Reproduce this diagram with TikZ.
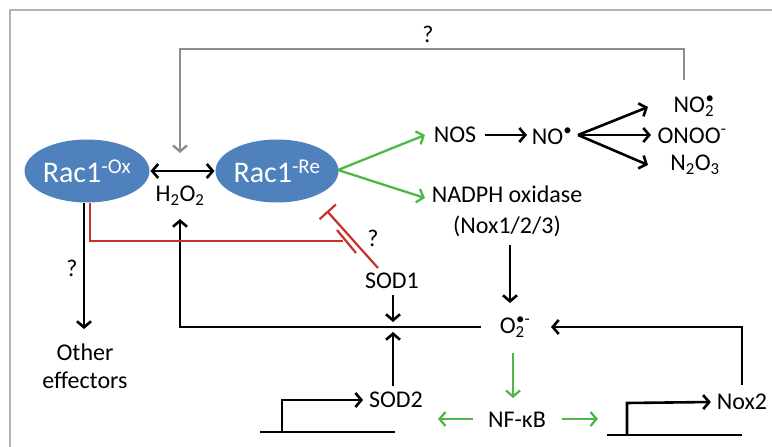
\documentclass[tikz,border=0pt]{standalone}
\usepackage{fontspec}
\setmainfont{Carlito}
\usetikzlibrary{arrows.meta,shapes.geometric}
\definecolor{racblue}{HTML}{4F81BD}
\definecolor{arrgreen}{HTML}{4DB748}
\definecolor{inhred}{HTML}{C8302C}
\definecolor{framegray}{HTML}{B4B4B4}
\definecolor{linkgray}{HTML}{8C8C8C}
\newcommand\mysubsup[2]{\textsubscript{\rlap{#1}}\textsuperscript{#2}}
\begin{document}
\begin{tikzpicture}[x=1pt,y=-1pt,
  font=\fontsize{24}{28}\selectfont,
  line width=2pt,
  >={Straight Barb[length=6pt,width=14pt]},
  rac/.style={ellipse,fill=racblue,text=white,minimum width=121pt,minimum height=63pt,inner sep=0pt,font=\fontsize{30}{32}\selectfont},
  lbl/.style={inner sep=1pt},
  blk/.style={draw=black,line width=2.6pt},
  grn/.style={draw=arrgreen,line width=2.3pt},
  red/.style={draw=inhred,line width=2.2pt},
  gry/.style={draw=linkgray,line width=2.4pt}]
\useasboundingbox (0,0) rectangle (772,447);
\draw[framegray,line width=1.5pt] (10,447) -- (10,10) -- (772,10);

% nodes
\node[rac] (ox) at (87,171) {Rac1\textsuperscript{-Ox}};
\node[rac] (re) at (277,171) {Rac1\textsuperscript{-Re}};
\node[lbl] (h2o2) at (180,196) {H\textsubscript{2}O\textsubscript{2}};
\node[lbl] (nos) at (455,135) {NOS};
\node[lbl] (no) at (552,136) {NO\textsuperscript{•}};
\node[lbl] (no2) at (694,106) {NO\mysubsup{2}{•}};
\node[lbl] (onoo) at (692,136) {ONOO\textsuperscript{-}};
\node[lbl] (n2o3) at (695,165) {N\textsubscript{2}O\textsubscript{3}};
\node[lbl] (nadph) at (507,194) {NADPH oxidase};
\node[lbl] (nox123) at (507,226) {(Nox1/2/3)};
\node[lbl] (sod1) at (392,281) {SOD1};
\node[lbl] (o2) at (515,327) {O\mysubsup{2}{•-}};
\node[lbl] (sod2) at (396,400) {SOD2};
\node[lbl] (nfkb) at (517,420) {NF-κB};
\node[lbl] (nox2) at (742,402) {Nox2};
\node[lbl,align=center] (other) at (85,366) {Other\\effectors};
\node[lbl] (q1) at (428,34) {?};
\node[lbl] (q2) at (72,268) {?};
\node[lbl] (q3) at (373,238) {?};

% coordinates
\coordinate (grayTop) at (684,80);
\coordinate (grayTip) at (180,153);
\coordinate (nosOut) at (485,135);
\coordinate (noIn) at (527,135);
\coordinate (nofork) at (578,135);
\coordinate (noEnd1) at (648,107);
\coordinate (noEnd2) at (651,135);
\coordinate (noEnd3) at (648,165);
\coordinate (reOut) at (338,170);
\coordinate (nosIn) at (425,135);
\coordinate (nadIn) at (425,198);
\coordinate (nadOut) at (510,245);
\coordinate (o2In) at (510,303);
\coordinate (o2W) at (481,327);
\coordinate (o2E) at (551,327);
\coordinate (corner) at (180,327);
\coordinate (h2o2In) at (180,219);
\coordinate (sod1Out) at (393,295);
\coordinate (j1) at (393,322);
\coordinate (sod2Out) at (393,386);
\coordinate (j2) at (393,332);
\coordinate (o2Down) at (513,353);
\coordinate (nfIn) at (513,398);
\coordinate (nfL) at (473,419);
\coordinate (nfLEnd) at (438,419);
\coordinate (nfR) at (562,419);
\coordinate (nfREnd) at (598,419);
\coordinate (nox2Up) at (742,385);
\coordinate (oxDown) at (84,203);
\coordinate (otherIn) at (84,329);
\coordinate (redStart) at (90,203);
\coordinate (redCorner) at (90,241);
\coordinate (redEnd) at (343,241);
\coordinate (sodRed) at (378,268);
\coordinate (sodRedTip) at (327,211);

% gray feedback
\draw[gry,->] (grayTop) -- (684,49) -| (grayTip);

% H2O2 double arrow
\draw[blk,<->] (ox.east) -- (re.west);

% green activation from Rac1-Re
\draw[grn,->] (reOut) -- (nosIn);
\draw[grn,->] (reOut) -- (nadIn);

% NOS -> NO -> products
\draw[blk,->] (nosOut) -- (noIn);
\draw[blk,->] (nofork) -- (noEnd1);
\draw[blk,->] (nofork) -- (noEnd2);
\draw[blk,->] (nofork) -- (noEnd3);

% NADPH oxidase -> O2
\draw[blk,->] (nadOut) -- (o2In);

% O2 -> H2O2
\draw[blk,->] (o2W) -- (corner) -- (h2o2In);

% SOD arrows
\draw[blk,->] (sod1Out) -- (j1);
\draw[blk,->] (sod2Out) -- (j2);

% O2 -> NF-kB
\draw[grn,->] (o2Down) -- (nfIn);
\draw[grn,->] (nfL) -- (nfLEnd);
\draw[grn,->] (nfR) -- (nfREnd);

% promoters
\draw[blk] (260,432) -- (395,432);
\draw[blk,->] (282,432) -- (282,400) -- ([xshift=-4pt]sod2.west);
\draw[blk] (607,435) -- (742,435);
\draw[blk,->] (627,435) -- (627,403) -- ([xshift=-4pt]nox2.west);

% Nox2 -> O2
\draw[blk,->] (nox2Up) |- (o2E);

% Rac1-Ox -> other effectors
\draw[blk,->] (oxDown) -- (otherIn);

% red inhibitions
\draw[red] (redStart) -- (redCorner) -- (redEnd);
\draw[red] (337,230) -- (356,253);
\draw[red,-{Bar[width=22pt]}] (sodRed) -- (sodRedTip);
\end{tikzpicture}
\end{document}
